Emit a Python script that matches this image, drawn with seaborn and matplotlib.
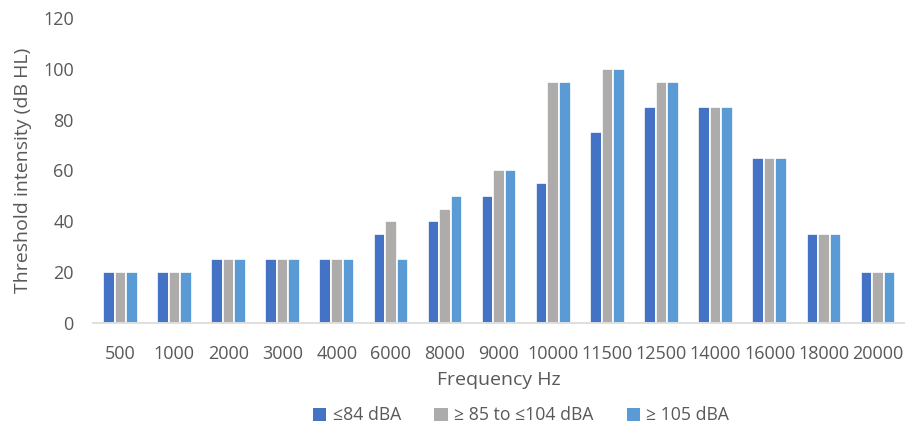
import matplotlib
matplotlib.use("Agg")
import matplotlib.pyplot as plt
import seaborn as sns
import pandas as pd

frequencies = ["500", "1000", "2000", "3000", "4000", "6000", "8000", "9000",
               "10000", "11500", "12500", "14000", "16000", "18000", "20000"]
series_names = ["\u226484 dBA", "\u2265 85 to \u2264104 dBA", "\u2265 105 dBA"]
low = [20, 20, 25, 25, 25, 35, 40, 50, 55, 75, 85, 85, 65, 35, 20]
mid = [20, 20, 25, 25, 25, 40, 45, 60, 95, 100, 95, 85, 65, 35, 20]
high = [20, 20, 25, 25, 25, 25, 50, 60, 95, 100, 95, 85, 65, 35, 20]
colors = ["#4472C4", "#AEABAB", "#5B9BD5"]

rows = []
for name, vals in zip(series_names, [low, mid, high]):
    for f, v in zip(frequencies, vals):
        rows.append({"Frequency": f, "Series": name, "Value": v})
df = pd.DataFrame(rows)

sns.set_theme(style="white")
plt.rcParams['font.family'] = ['Open Sans', 'DejaVu Sans']
text_color = "#595959"

fig = plt.figure(figsize=(9.05, 4.30), dpi=100)
ax = fig.add_axes([0.103, 0.249, 0.897, 0.709])

sns.barplot(data=df, x="Frequency", y="Value", hue="Series", order=frequencies,
            hue_order=series_names, palette=colors, width=0.64, ax=ax,
            edgecolor="white", linewidth=1.2, saturation=1)

ax.set_ylim(0, 120)
ax.set_yticks([0, 20, 40, 60, 80, 100, 120])
ax.set_xlim(-0.5, len(frequencies) - 0.5)
for s in ["top", "right", "left"]:
    ax.spines[s].set_visible(False)
ax.spines["bottom"].set_color("#D9D9D9")
ax.spines["bottom"].set_linewidth(1.2)
ax.tick_params(axis="both", length=0, colors=text_color, labelsize=13)
ax.tick_params(axis="x", pad=16)
ax.tick_params(axis="y", pad=14)
ax.set_xlabel("Frequency Hz", fontsize=14, color=text_color, labelpad=6)
ax.set_ylabel("Threshold intensity (dB HL)", fontsize=14, color=text_color, labelpad=8)

leg = ax.legend(loc="upper center", bbox_to_anchor=(0.527, -0.222), ncol=3, frameon=False,
                fontsize=12.7, labelcolor=text_color, handlelength=0.75, handleheight=0.75,
                handletextpad=0.35, columnspacing=1.9)
for h in leg.legend_handles:
    h.set_edgecolor("none")

fig.savefig("out.png", dpi=100)
